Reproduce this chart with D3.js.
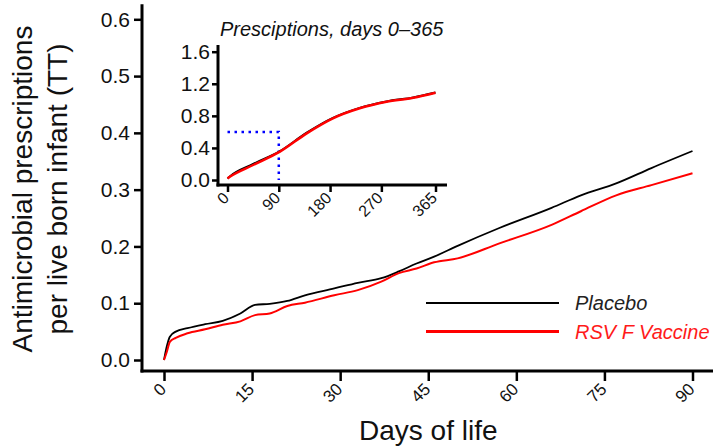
<!DOCTYPE html>
<style>
body { margin: 0; background: #fff; }
svg { font-family: "Liberation Sans", Arial, sans-serif; }
.axis .domain { display: none; }
</style>
<svg width="715" height="447"></svg>
<script src="https://d3js.org/d3.v7.min.js"></script>
<script>

// main chart, days 0-90
var days = [0, 0.5, 1, 2, 4, 7, 10, 13, 15.5, 18, 21, 24, 29, 33, 37, 40, 43, 46, 50, 57, 66, 71, 77, 83, 90];
var placebo = [0, 0.025, 0.041, 0.05, 0.056, 0.063, 0.069, 0.082, 0.097, 0.099, 0.104, 0.114, 0.126, 0.136, 0.144, 0.156, 0.17, 0.182, 0.201, 0.232, 0.268, 0.29, 0.311, 0.338, 0.368];
var vaccine = [0, 0.015, 0.032, 0.039, 0.047, 0.054, 0.062, 0.068, 0.079, 0.082, 0.095, 0.101, 0.114, 0.123, 0.138, 0.153, 0.161, 0.172, 0.179, 0.205, 0.238, 0.262, 0.29, 0.308, 0.329];
var xTicks = [0, 15, 30, 45, 60, 75, 90];
var yTicks = [0, 0.1, 0.2, 0.3, 0.4, 0.5, 0.6];

// inset, days 0-365
var insetDays = [0, 4, 45, 92, 139, 185, 232, 279, 326, 365];
var insetPlacebo = [0.02, 0.045, 0.2, 0.36, 0.59, 0.775, 0.9, 0.98, 1.03, 1.09];
var insetVaccine = [0.02, 0.04, 0.187, 0.353, 0.582, 0.769, 0.894, 0.976, 1.026, 1.089];
var insetXTicks = [0, 90, 180, 270, 365];
var insetYTicks = [0, 0.4, 0.8, 1.2, 1.6];
var cutoff = {day: 90, value: 0.6};

var seriesNames = ["Placebo", "RSV F Vaccine"];
var seriesColors = ["#000", "#ff0000"];

var svg = d3.select("svg");

var x = d3.scaleLinear().domain([0, 90]).range([164, 692.5]);
var y = d3.scaleLinear().domain([0, 0.6]).range([360, 19.3]);

var line = d3.line().curve(d3.curveMonotoneX);

// axes
var axisX = 142, axisY = 371;

svg.append("line")
    .attr("x1", axisX).attr("x2", axisX)
    .attr("y1", y(0.6) - 15).attr("y2", axisY + 1.5)
    .attr("stroke", "#000").attr("stroke-width", 3);
svg.append("line")
    .attr("x1", axisX - 1.5).attr("x2", 713)
    .attr("y1", axisY).attr("y2", axisY)
    .attr("stroke", "#000").attr("stroke-width", 3);

var gy = svg.append("g")
    .attr("class", "axis")
    .attr("transform", "translate(" + axisX + ",0)")
    .call(d3.axisLeft(y).tickValues(yTicks).tickSize(8).tickPadding(4).tickFormat(d3.format(".1f")));
gy.selectAll(".tick line").attr("stroke-width", 2.5);
gy.selectAll(".tick text").attr("font-size", 21).attr("fill", "#111");

var gx = svg.append("g")
    .attr("class", "axis")
    .attr("transform", "translate(0," + axisY + ")")
    .call(d3.axisBottom(x).tickValues(xTicks).tickSize(10));
gx.selectAll(".tick line").attr("stroke-width", 2.5);
gx.selectAll(".tick text")
    .attr("font-size", 17)
    .attr("fill", "#111")
    .attr("text-anchor", "end")
    .attr("y", null).attr("dy", "0.35em")
    .attr("transform", "translate(-1.5,15) rotate(-45)");

// titles
svg.append("text")
    .attr("transform", "translate(22,189) rotate(-90)")
    .attr("text-anchor", "middle")
    .attr("dy", "0.35em")
    .attr("font-size", 28)
    .attr("fill", "#111")
    .text("Antimicrobial prescriptions");
svg.append("text")
    .attr("transform", "translate(57,189) rotate(-90)")
    .attr("text-anchor", "middle")
    .attr("dy", "0.35em")
    .attr("font-size", 28)
    .attr("fill", "#111")
    .text("per live born infant (TT)");
svg.append("text")
    .attr("x", (x(0) + x(90)) / 2)
    .attr("y", 440)
    .attr("text-anchor", "middle")
    .attr("font-size", 28)
    .attr("fill", "#111")
    .text("Days of life");

// main lines
svg.append("path")
    .attr("d", line(days.map(function(d, i) { return [x(d), y(placebo[i])]; })))
    .attr("fill", "none").attr("stroke", seriesColors[0]).attr("stroke-width", 1.8);
svg.append("path")
    .attr("d", line(days.map(function(d, i) { return [x(d), y(vaccine[i])]; })))
    .attr("fill", "none").attr("stroke", seriesColors[1]).attr("stroke-width", 2);

// legend
var legend = svg.append("g")
  .selectAll("g")
  .data(seriesNames)
  .enter().append("g")
    .attr("transform", function(d, i) { return "translate(0," + (303 + i * 28.5) + ")"; });
legend.append("line")
    .attr("x1", 426).attr("x2", 559)
    .attr("stroke", function(d, i) { return seriesColors[i]; })
    .attr("stroke-width", function(d, i) { return i ? 3 : 2; });
legend.append("text")
    .attr("x", 575)
    .attr("dy", "0.35em")
    .attr("font-size", 20)
    .attr("font-style", "italic")
    .attr("fill", function(d, i) { return i ? "#ff1a1a" : "#222"; })
    .text(function(d) { return d; });

// inset
var ix = d3.scaleLinear().domain([0, 365]).range([227.5, 435.5]);
var iy = d3.scaleLinear().domain([0, 1.6]).range([180, 51.7]);
var insetX = 218, insetY = 185;

svg.append("text")
    .attr("x", 220).attr("y", 36)
    .attr("font-size", 20)
    .attr("font-style", "italic")
    .attr("fill", "#111")
    .text("Presciptions, days 0\u2013365");

svg.append("line")
    .attr("x1", insetX).attr("x2", insetX)
    .attr("y1", 45).attr("y2", insetY + 1.5)
    .attr("stroke", "#000").attr("stroke-width", 3);
svg.append("line")
    .attr("x1", insetX - 1.5).attr("x2", 447)
    .attr("y1", insetY).attr("y2", insetY)
    .attr("stroke", "#000").attr("stroke-width", 3);

var iay = svg.append("g")
    .attr("class", "axis")
    .attr("transform", "translate(" + insetX + ",0)")
    .call(d3.axisLeft(iy).tickValues(insetYTicks).tickSize(6).tickPadding(2).tickFormat(d3.format(".1f")));
iay.selectAll(".tick line").attr("stroke-width", 2.5);
iay.selectAll(".tick text").attr("font-size", 21).attr("fill", "#111");

var iax = svg.append("g")
    .attr("class", "axis")
    .attr("transform", "translate(0," + insetY + ")")
    .call(d3.axisBottom(ix).tickValues(insetXTicks).tickSize(7));
iax.selectAll(".tick line").attr("stroke-width", 2.5);
iax.selectAll(".tick text")
    .attr("font-size", 16)
    .attr("fill", "#111")
    .attr("text-anchor", "end")
    .attr("y", null).attr("dy", "0.35em")
    .attr("transform", "translate(-2,10) rotate(-45)");

// 90-day cutoff
svg.append("path")
    .attr("d", "M" + ix(0) + "," + iy(cutoff.value) + "H" + ix(cutoff.day) + "V" + iy(0))
    .attr("fill", "none")
    .attr("stroke", "#0000ff")
    .attr("stroke-width", 2.5)
    .attr("stroke-dasharray", "2.5,4.5");

svg.append("path")
    .attr("d", line(insetDays.map(function(d, i) { return [ix(d), iy(insetPlacebo[i])]; })))
    .attr("fill", "none").attr("stroke", seriesColors[0]).attr("stroke-width", 2);
svg.append("path")
    .attr("d", line(insetDays.map(function(d, i) { return [ix(d), iy(insetVaccine[i])]; })))
    .attr("fill", "none").attr("stroke", seriesColors[1]).attr("stroke-width", 2.5);

</script>
